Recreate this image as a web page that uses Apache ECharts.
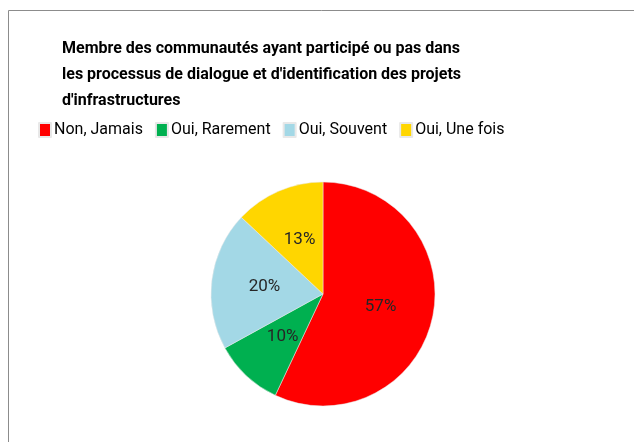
<!DOCTYPE html>
<html>
<head>
<meta charset="utf-8">
<script src="https://cdn.jsdelivr.net/npm/echarts@6/dist/echarts.min.js"></script>
<style>
  html, body { margin: 0; padding: 0; background: #fff; }
  #chart { width: 634px; height: 442px; }
</style>
</head>
<body>
<div id="chart"></div>
<script>
    var categories = ['Non, Jamais', 'Oui, Rarement', 'Oui, Souvent', 'Oui, Une fois'];
    var values = [57, 10, 20, 13];
    var colors = ['#ff0000', '#00b050', '#a3d8e6', '#ffd600'];

    initPie();

    function initPie() {
      var chartDom = document.getElementById('chart');
      var myChart = echarts.init(chartDom);

      var option = {
        animation: false,
        color: colors,
        graphic: [
          {
            type: 'rect',
            shape: { x: 8.5, y: 10.5, width: 700, height: 500 },
            style: { fill: 'none', stroke: '#8c8c8c', lineWidth: 1 }
          }
        ],
        title: {
          text: 'Membre des communautés ayant participé ou pas dans\nles processus de dialogue et d\'identification des projets\nd\'infrastructures',
          left: 57,
          top: 31,
          textStyle: {
            fontFamily: 'Roboto',
            fontSize: 16,
            fontWeight: 'bold',
            color: '#000',
            lineHeight: 26
          }
        },
        legend: {
          data: categories,
          left: 33,
          top: 117,
          icon: 'rect',
          itemWidth: 12,
          itemHeight: 14,
          itemGap: 12,
          textStyle: {
            fontFamily: 'Roboto',
            fontSize: 16,
            color: '#000',
            padding: [0, 0, 0, -2]
          }
        },
        series: [
          {
            type: 'pie',
            center: [323, 294],
            radius: 112,
            startAngle: 90,
            clockwise: true,
            data: categories.map(function (c, i) {
              return { name: c, value: values[i] };
            }),
            itemStyle: { borderColor: '#e8e8e8', borderWidth: 0.5 },
            label: {
              position: 'inside',
              formatter: '{c}%',
              fontFamily: 'Roboto',
              fontSize: 17,
              color: '#262626'
            },
            labelLine: { show: false }
          }
        ]
      };

      option && myChart.setOption(option);
    }
</script>
</body>
</html>
